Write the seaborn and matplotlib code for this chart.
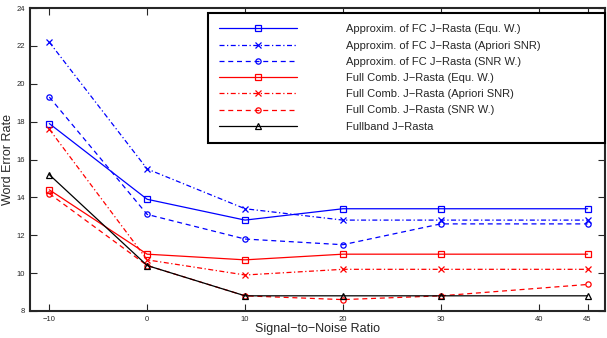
import pandas as pd
import seaborn as sns
import matplotlib.pyplot as plt

# Datos
snr = [-10, 0, 10, 20, 30, 45]
approx_equ = [17.9, 13.9, 12.8, 13.4, 13.4, 13.4]
approx_apriori = [22.2, 15.5, 13.4, 12.8, 12.8, 12.8]
approx_snr = [19.3, 13.1, 11.8, 11.5, 12.6, 12.6]
full_equ = [14.4, 11.0, 10.7, 11.0, 11.0, 11.0]
full_apriori = [17.6, 10.7, 9.9, 10.2, 10.2, 10.2]
full_snr = [14.2, 10.4, 8.8, 8.6, 8.8, 9.4]
fullband = [15.2, 10.4, 8.8, 8.8, 8.8, 8.8]

labels = ['Approxim. of FC J\u2212Rasta (Equ. W.)',
          'Approxim. of FC J\u2212Rasta (Apriori SNR)',
          'Approxim. of FC J\u2212Rasta (SNR W.)',
          'Full Comb. J\u2212Rasta (Equ. W.)',
          'Full Comb. J\u2212Rasta (Apriori SNR)',
          'Full Comb. J\u2212Rasta (SNR W.)',
          'Fullband J\u2212Rasta']
series = [approx_equ, approx_apriori, approx_snr, full_equ, full_apriori, full_snr, fullband]

colores = ['blue', 'blue', 'blue', 'red', 'red', 'red', 'black']
estilos = ['-', (0, (4, 2, 1, 2)), (0, (4, 3)), '-', (0, (4, 2, 1, 2)), (0, (4, 3)), '-']
marcadores = ['s', 'x', 'o', 's', 'x', 'o', '^']

sns.set_style('ticks')
plt.rcParams['font.family'] = ['Liberation Sans', 'DejaVu Sans']

fig = plt.figure(figsize=(6.07, 3.38), dpi=100)
ax = fig.add_axes([0.049, 0.08, 0.948, 0.896])

for lab, vals, c, ls, m in zip(labels, series, colores, estilos, marcadores):
    df = pd.DataFrame({'SNR': snr, 'WER': vals})
    sns.lineplot(data=df, x='SNR', y='WER', ax=ax, color=c, linestyle=ls,
                 marker=m, markersize=3.8, markerfacecolor='none',
                 markeredgecolor=c, markeredgewidth=0.9, linewidth=0.9, label=lab)

ax.set_xlim(-12, 46.8)
ax.set_ylim(8, 24)
ax.set_xticks([-10, 0, 10, 20, 30, 40, 45])
ax.set_yticks(range(8, 25, 2))
ax.tick_params(direction='in', labelsize=5.5, top=True, right=True, length=5, width=0.8)
for s in ax.spines.values():
    s.set_linewidth(1.5)
ax.set_xlabel('Signal\u2212to\u2212Noise Ratio', fontsize=9, labelpad=0)
ax.set_ylabel('Word Error Rate', fontsize=9, labelpad=2)

leg = ax.legend(loc='upper left', bbox_to_anchor=(0.31, 0.554, 0.689, 0.429),
                mode='expand', fontsize=8, handlelength=7.0, handletextpad=4.4,
                labelspacing=0.56, borderpad=1.0, borderaxespad=0,
                fancybox=False, framealpha=1)
leg.get_frame().set_edgecolor('black')
leg.get_frame().set_linewidth(1.5)

plt.savefig('out.png', dpi=100)
